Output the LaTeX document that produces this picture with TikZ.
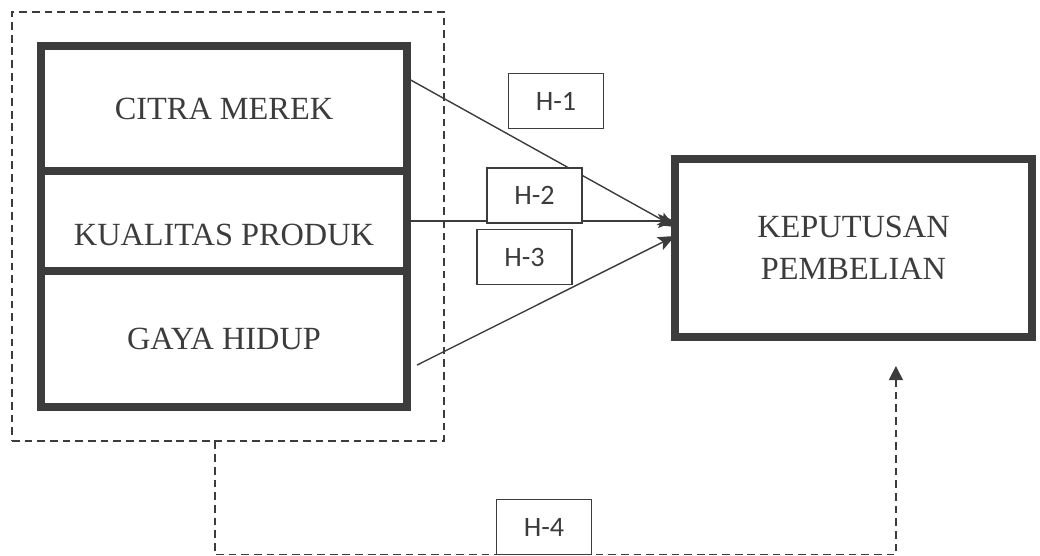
\documentclass[tikz,border=0pt]{standalone}
\usepackage{fontspec}
\setmainfont{Liberation Serif}
\newfontfamily\hypfont{Carlito}
\usetikzlibrary{positioning,fit,arrows.meta}
\definecolor{inkgray}{HTML}{3C3C3C}

\tikzset{
  varbox/.style={draw=inkgray, line width=5.7pt, minimum width=9.15cm, outer sep=0pt, inner sep=0pt, text=inkgray, font=\fontsize{23}{30}\selectfont, align=center},
  hypbox/.style={draw=inkgray, fill=white, line width=1pt, minimum width=2.375cm, minimum height=1.375cm, text=inkgray, font=\hypfont\fontsize{20}{24}\selectfont},
  linkline/.style={draw=inkgray, line width=1pt, -{Stealth[length=12pt,width=10pt,inset=2.5pt,fill=inkgray]}},
  groupline/.style={draw=inkgray, line width=0.9pt, dash pattern=on 5.5pt off 3.5pt},
}

\begin{document}
\begin{tikzpicture}[x=0.025cm, y=-0.025cm]
\useasboundingbox (0,0) rectangle (1040,556);

% independent variables
\node[varbox, minimum height=3.125cm] (citra) at (224,108.5) {CITRA MEREK};
\node[varbox, minimum height=2.5cm, text height=35pt, text depth=0pt, below=0pt of citra] (kualitas) {KUALITAS PRODUK};
\node[varbox, minimum height=3.4cm, below=0pt of kualitas] (gaya) {GAYA HIDUP};

% dependent variable
\node[varbox, minimum width=8.925cm, minimum height=4.45cm] (keputusan) at (853.5,248) {KEPUTUSAN\\PEMBELIAN};

% frame round the three variables
\node[groupline, fit=(citra)(gaya), inner xsep=0.825cm, inner ysep=0.85cm, xshift=0.1cm] (group) {};

% partial links
\draw[linkline] ([yshift=-0.8cm]citra.north east) -- ([yshift=0.525cm]keputusan.west);
\draw[linkline] (kualitas.east) -- (kualitas.east -| keputusan.west);
\draw[linkline] ([xshift=0.25cm,yshift=-0.65cm]gaya.east) -- ([yshift=0.3cm]keputusan.west);

\node[hypbox] (h1) at (556,101) {H-1};
\node[hypbox] (h2) at (534.5,195.5) {H-2};
\node[hypbox] (h3) at (524.5,257) {H-3};

% simultaneous link
\draw[groupline, -{Triangle[length=10pt,width=10pt,fill=inkgray]}] ([xshift=-0.325cm]group.south) -- ++(0,113) -| ([xshift=1.06cm,yshift=-0.725cm]keputusan.south);
\node[hypbox] (h4) at (544,527) {H-4};

\end{tikzpicture}
\end{document}
